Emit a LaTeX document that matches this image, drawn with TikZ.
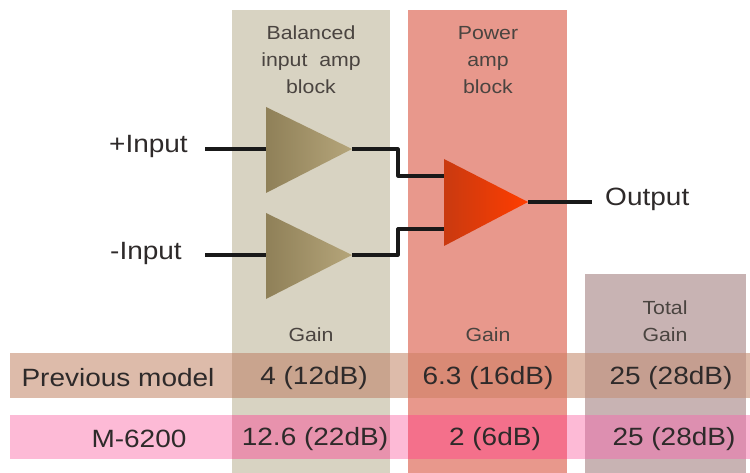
\documentclass[tikz,border=0pt]{standalone}
\usepackage{fontspec}
\setmainfont{Liberation Sans}
\definecolor{colA}{HTML}{D8D3C2}
\definecolor{colB}{HTML}{E8988C}
\definecolor{colC}{HTML}{C8B3B3}
\definecolor{rowP}{HTML}{DDBBAA}
\definecolor{rowPA}{HTML}{C9A48E}
\definecolor{rowPB}{HTML}{D98A75}
\definecolor{rowPC}{HTML}{C59E90}
\definecolor{rowM}{HTML}{FDBAD6}
\definecolor{rowMA}{HTML}{E892AD}
\definecolor{rowMB}{HTML}{F4708B}
\definecolor{rowMC}{HTML}{DD8FB0}
\definecolor{txt}{HTML}{2E2A2A}
\definecolor{small}{HTML}{4A4440}
\definecolor{ampDark}{HTML}{8F8058}
\definecolor{ampLight}{HTML}{B5A57A}
\definecolor{powDark}{HTML}{C93A10}
\definecolor{powLight}{HTML}{FF3D00}
\tikzset{
  x=1pt,y=-1pt,
  big/.style={font=\fontsize{25}{25}\selectfont,text=txt,inner sep=0pt,xscale=1.12},
  little/.style={font=\fontsize{19}{27}\selectfont,text=small,align=center,inner sep=0pt,xscale=1.12},
  wire/.style={draw=black!90,line width=3.2pt,line join=round},
  ampA/.style={shade,left color=ampDark,right color=ampLight},
  ampB/.style={shade,left color=powDark,right color=powLight},
}
\begin{document}
\begin{tikzpicture}
\useasboundingbox (0,0) rectangle (750,473);
% columns
\fill[colA] (232,10) rectangle (390,473);
\fill[colB] (408,10) rectangle (567,473);
\fill[colC] (585,274) rectangle (746,473);
% rows
\fill[rowP] (10,353) rectangle (750,398);
\fill[rowPA] (232,353) rectangle (390,398);
\fill[rowPB] (408,353) rectangle (567,398);
\fill[rowPC] (585,353) rectangle (746,398);
\fill[rowM] (10,415) rectangle (750,459);
\fill[rowMA] (232,415) rectangle (390,459);
\fill[rowMB] (408,415) rectangle (567,459);
\fill[rowMC] (585,415) rectangle (746,459);
% anchors
\coordinate (inP) at (205,149);
\coordinate (inM) at (205,255);
\coordinate (a1in) at (266,149);
\coordinate (a2in) at (266,255);
\coordinate (a1out) at (352,149);
\coordinate (a2out) at (352,255);
\coordinate (p1in) at (444,176);
\coordinate (p2in) at (444,229);
\coordinate (pout) at (528,202);
\coordinate (outEnd) at (592,202);
% wires
\draw[wire] (inP) -- (a1in);
\draw[wire] (inM) -- (a2in);
\draw[wire] (a1out) -- (398,149) -- (398,176) -- (p1in);
\draw[wire] (a2out) -- (398,255) -- (398,229) -- (p2in);
\draw[wire] (pout) -- (outEnd);
% amps
\path[ampA] (266,107) -- (a1out) -- (266,193) -- cycle;
\path[ampA] (266,213) -- (a2out) -- (266,299) -- cycle;
\path[ampB] (444,159) -- (pout) -- (444,246) -- cycle;
% labels
\node[little] (lblA) at (311,60) {Balanced\\input\ \ amp\\block};
\node[little] (lblB) at (488,60) {Power\\amp\\block};
\node[little] (lblT) at (665,321) {Total\\Gain};
\node[little] (gainA) at (311,335) {Gain};
\node[little] (gainB) at (488,335) {Gain};
\node[big,anchor=east] (plus) at (188,146) {+Input};
\node[big,anchor=east] (minus) at (182,253) {-Input};
\node[big,anchor=west] (out) at (605,199) {Output};
\node[big] (prev) at (118,378) {Previous model};
\node[big] (a1) at (314,378) {4 (12dB)};
\node[big] (b1) at (488,378) {6.3 (16dB)};
\node[big] (c1) at (671,378) {25 (28dB)};
\node[big] (m) at (139,439) {M-6200};
\node[big] (a2) at (315,439) {12.6 (22dB)};
\node[big] (b2) at (495,439) {2 (6dB)};
\node[big] (c2) at (674,439) {25 (28dB)};
\end{tikzpicture}
\end{document}
